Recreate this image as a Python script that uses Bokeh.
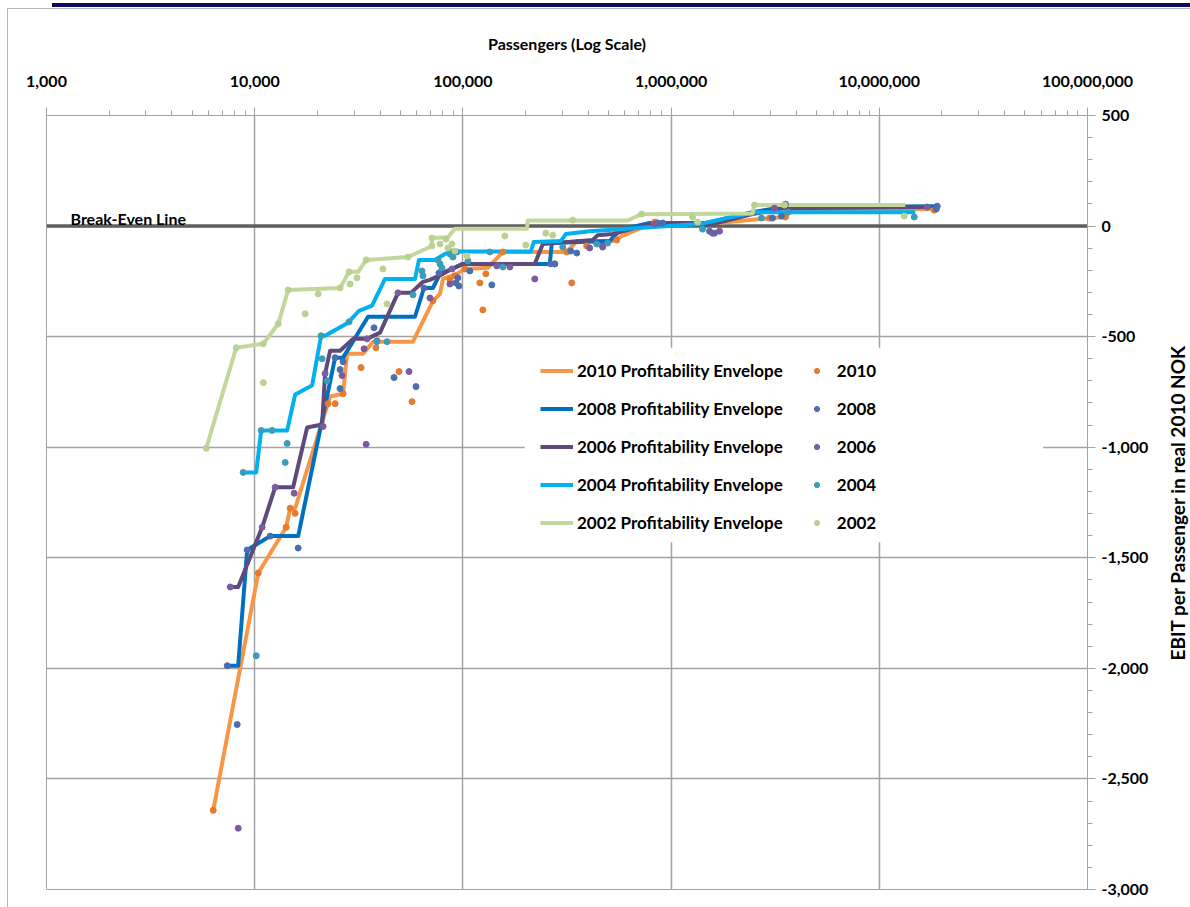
import numpy as np
from bokeh.plotting import figure
from bokeh.models import (Range1d, FixedTicker, NumeralTickFormatter, Span, Label,
                          Legend, LegendItem, BoxAnnotation, InlineStyleSheet)
from bokeh.embed import file_html
from bokeh.resources import INLINE

# ---------------- data (passengers, EBIT per passenger NOK) ----------------
x_ticks = [1000, 10000, 100000, 1000000, 10000000, 100000000]
y_ticks = [-3000, -2500, -2000, -1500, -1000, -500, 0, 500]

years = ["2010", "2008", "2006", "2004", "2002"]

pax_2010_env = [6320, 10400, 14160, 14800, 15640, 23020, 26570, 27770, 33150, 37020,
                57580, 71800, 77600, 80190, 93590, 102200, 131800, 155600, 315300, 352200,
                524200, 566200, 788700, 1480000, 3503000, 3701000, 17960000]
ebit_2010_env = [-2642, -1569, -1362, -1276, -1276, -771, -758, -577, -577, -523,
                 -523, -338, -307, -239, -216, -194, -189, -117, -117, -68,
                 -68, -50, 9, 9, 41, 72, 77]
pax_2010_pts = [6320, 10400, 14160, 14800, 15640, 22520, 24330, 26570, 32420, 38250,
                49320, 56940, 71800, 86620, 91500, 102200, 120600, 124700, 128900, 155600,
                276200, 315300, 333300, 393200, 547800, 833600, 2968000, 3541000, 18350000]
ebit_2010_pts = [-2642, -1569, -1362, -1276, -1299, -803, -803, -758, -640, -550,
                 -658, -794, -338, -243, -225, -194, -257, -379, -216, -117,
                 -171, -117, -257, -90, -63, 18, 36, 41, 72]

pax_2008_env = [7380, 8330, 9200, 11870, 16170, 24330, 26570, 35030, 58880, 65010,
                71800, 77600, 86620, 100000, 261500, 267300, 507000, 566200, 788700, 1480000,
                2460000, 3503000, 18980000]
ebit_2008_env = [-1988, -1988, -1465, -1402, -1402, -595, -595, -410, -410, -280,
                 -280, -216, -198, -171, -171, -77, -68, -18, 14, 14,
                 63, 86, 90]
pax_2008_pts = [7380, 9200, 8240, 11870, 16170, 24330, 25700, 25700, 26570, 37430,
                38680, 46680, 59530, 65010, 76720, 92560, 95680, 94620, 108000, 137700,
                264400, 276200, 329600, 352200, 469400, 861600, 910500, 1530000, 1617000, 3068000,
                3388000, 3541000, 18770000, 18980000]
ebit_2008_pts = [-1988, -1465, -2254, -1402, -1456, -595, -649, -735, -613, -460,
                 -519, -685, -726, -280, -212, -257, -271, -234, -203, -266,
                 -171, -171, -113, -122, -90, 14, 14, -23, -32, 36,
                 45, 99, 77, 90]

pax_2006_env = [7460, 8330, 10860, 12540, 15300, 17860, 21070, 21780, 23020, 25700,
                29680, 34640, 40000, 48770, 56310, 64320, 69460, 80190, 88600, 100000,
                221400, 242000, 420200, 444000, 524200, 788700, 1581000, 2460000, 3503000, 17370000]
ebit_2006_env = [-1632, -1632, -1362, -1181, -1181, -911, -897, -667, -564, -564,
                 -510, -510, -482, -302, -302, -252, -243, -216, -194, -171,
                 -171, -81, -63, -41, -36, 9, 9, 54, 81, 86]
pax_2006_pts = [7630, 8330, 10860, 12540, 15470, 21300, 21780, 26280, 33510, 34300,
                34640, 48770, 55080, 69460, 86620, 88600, 145600, 168100, 221400, 406500,
                469400, 833600, 1581000, 1708000, 3136000, 16990000]
ebit_2006_pts = [-1632, -2723, -1362, -1181, -1208, -906, -667, -676, -555, -987,
                 -510, -302, -658, -325, -262, -194, -180, -185, -239, -99,
                 -95, 9, -32, -23, 81, 86]

pax_2004_env = [8800, 10170, 10740, 14320, 15640, 18870, 20840, 21780, 28080, 31710,
                36610, 42260, 58880, 61520, 73400, 82000, 89540, 211900, 219000, 295100,
                311900, 406500, 788700, 1370000, 1846000, 2571000, 14880000]
ebit_2004_env = [-1114, -1114, -924, -924, -762, -721, -496, -496, -437, -383,
                 -360, -239, -239, -153, -153, -126, -115, -115, -72, -68,
                 -36, -23, -5, 9, 36, 63, 63]
pax_2004_pts = [8800, 10740, 12130, 14320, 14010, 10170, 21070, 22270, 20840, 28400,
                38680, 43200, 57580, 63610, 64320, 75890, 77600, 79320, 86620, 88600,
                93590, 89540, 105700, 134700, 155600, 301700, 439100, 496100, 1416000, 2718000,
                3660000, 14720000]
ebit_2004_pts = [-1114, -924, -924, -983, -1069, -1943, -600, -699, -496, -433,
                 -523, -523, -311, -203, -225, -153, -171, -189, -126, -117,
                 -117, -140, -158, -117, -185, -95, -81, -77, -14, 36,
                 63, 41]

pax_2002_env = [5850, 8150, 11000, 12970, 14480, 25700, 28400, 31400, 34300, 54500,
                71000, 71000, 84800, 91500, 203000, 205000, 618000, 722000, 2460000, 2515000,
                13330000]
ebit_2002_env = [-1005, -550, -532, -442, -289, -280, -207, -207, -153, -140,
                 -90, -54, -50, -12, -12, 25, 25, 54, 57, 95,
                 95]
pax_2002_pts = [5850, 8150, 11000, 11000, 12970, 14480, 17470, 20170, 25700, 28400,
                28700, 31000, 34300, 41300, 43200, 54500, 71000, 71000, 77600, 82900,
                88600, 84800, 91500, 104500, 159000, 200500, 250000, 270000, 337000, 722000,
                1268000, 1340000, 2515000, 3503000, 13180000]
ebit_2002_pts = [-1005, -550, -532, -708, -442, -289, -397, -307, -280, -207,
                 -262, -234, -153, -194, -352, -140, -90, -54, -81, -59,
                 -81, -99, -113, -135, -45, -86, -32, -41, 27, 54,
                 41, 18, 95, 95, 45]

env_x = [pax_2010_env, pax_2008_env, pax_2006_env, pax_2004_env, pax_2002_env]
env_y = [ebit_2010_env, ebit_2008_env, ebit_2006_env, ebit_2004_env, ebit_2002_env]
pts_x = [pax_2010_pts, pax_2008_pts, pax_2006_pts, pax_2004_pts, pax_2002_pts]
pts_y = [ebit_2010_pts, ebit_2008_pts, ebit_2006_pts, ebit_2004_pts, ebit_2002_pts]

line_colors = ["#F79646", "#0070C0", "#604A7B", "#00B0F0", "#C3D69B"]
dot_colors = ["#E57B2E", "#4A6EB0", "#7B5C9F", "#3C9DB8", "#B9D291"]

FONT = "Lato"
GRID = "#A3A3A3"
Y_TITLE = "EBIT per Passenger in real 2010 NOK"

p = figure(width=1190, height=907, x_axis_type="log",
           x_range=Range1d(1000, 100000000), y_range=Range1d(-3000, 500),
           x_axis_location="above", y_axis_location="right",
           output_backend="svg", toolbar_location=None,
           min_border_left=46, min_border_right=103, min_border_top=115, min_border_bottom=18)
p.background_fill_color = "white"
p.border_fill_color = "white"
p.outline_line_color = GRID
p.outline_line_width = 1

# page decoration: dark rule at the very top and the light chart-area border
p.stylesheets = [InlineStyleSheet(css="""
:host::before { content: ""; position: absolute; left: 52px; top: 3px; right: 0px;
  height: 4px; background: #0B0B5E; z-index: 100; pointer-events: none; }
:host::after { content: ""; position: absolute; left: 7px; top: 8px; right: 0px; bottom: 0px;
  border-left: 1px solid #B8B8B8; border-top: 1px solid #B8B8B8; z-index: 99;
  pointer-events: none; }
""")]

x_minor = [m * t for t in x_ticks[:-1] for m in range(2, 10)]
y_minor = list(range(-3000, 501, 100))

xa = p.xaxis[0]
xa.ticker = FixedTicker(ticks=x_ticks, minor_ticks=x_minor)
xa.formatter = NumeralTickFormatter(format="0,0")
xa.axis_label = "Passengers (Log Scale)"
ya = p.yaxis[0]
ya.ticker = FixedTicker(ticks=y_ticks, minor_ticks=y_minor)
ya.formatter = NumeralTickFormatter(format="0,0")

for ax in (xa, ya):
    ax.axis_line_color = GRID
    ax.major_tick_line_color = GRID
    ax.minor_tick_line_color = GRID
    ax.major_tick_out = 8
    ax.major_tick_in = 0
    ax.minor_tick_out = 5
    ax.minor_tick_in = 0
    ax.major_label_text_font = FONT
    ax.major_label_text_font_style = "bold"
    ax.major_label_text_font_size = "16px"
    ax.major_label_text_color = "black"
    ax.axis_label_text_font = FONT
    ax.axis_label_text_font_style = "bold"
    ax.axis_label_text_font_size = "16px"
    ax.axis_label_text_color = "black"
xa.major_label_standoff = 21
xa.axis_label_standoff = 20
ya.major_label_standoff = 6

p.xgrid.grid_line_color = GRID
p.xgrid.grid_line_width = 1.5
p.ygrid.grid_line_color = GRID
p.ygrid.grid_line_width = 1.5

# break-even line
p.add_layout(Span(location=0, dimension="width", line_color="#5F5F5F",
                  line_width=3.5, level="underlay"))

line_rs = []
for xs, ys, c in zip(env_x, env_y, line_colors):
    line_rs.append(p.line(xs, ys, line_color=c, line_width=4, line_join="round"))
dot_rs = []
for xs, ys, c in zip(pts_x, pts_y, dot_colors):
    dot_rs.append(p.scatter(xs, ys, marker="circle", size=6, fill_color=c, line_color=c))

# white legend panel (as in the original, it hides the grid behind the legend)
p.add_layout(BoxAnnotation(left=198000, right=61200000, bottom=-1430, top=-550,
                           fill_color="white", fill_alpha=1.0, line_color=None))

items = [LegendItem(label=f"{y} Profitability Envelope", renderers=[r]) for y, r in zip(years, line_rs)]
items += [LegendItem(label=y, renderers=[r]) for y, r in zip(years, dot_rs)]
legend = Legend(items=items, location=(494, 356), orientation="vertical", ncols=2,
                label_text_font=FONT, label_text_font_style="bold", label_text_font_size="17px",
                label_text_color="black", label_standoff=4, label_height=20,
                glyph_width=33, glyph_height=13, spacing=17, padding=10, margin=0,
                border_line_color=None, background_fill_color="white", background_fill_alpha=1.0)
p.add_layout(legend)

p.add_layout(Label(x=24, y=671.5, x_units="screen", y_units="screen",
                   text="Break-Even Line", text_font=FONT, text_font_style="bold",
                   text_font_size="16px", text_color="black", text_baseline="alphabetic"))

# right-hand axis title, reading bottom-to-top, centred on the plot height
pt = figure(width=26, height=774, x_range=Range1d(0, 1), y_range=Range1d(0, 1),
            x_axis_location=None, y_axis_location=None, min_border=0,
            output_backend="svg", toolbar_location=None)
pt.grid.visible = False
pt.outline_line_color = None
pt.background_fill_alpha = 0
pt.border_fill_alpha = 0
pt.add_layout(Label(x=0.5, y=0.5, angle=np.pi / 2, text=Y_TITLE, text_font=FONT,
                    text_font_style="bold", text_font_size="19px", text_color="black",
                    text_align="center", text_baseline="middle"))
pt.styles = {"position": "absolute", "left": "1164px", "top": "115px"}

open("out.html", "w").write(file_html([p, pt], INLINE))
